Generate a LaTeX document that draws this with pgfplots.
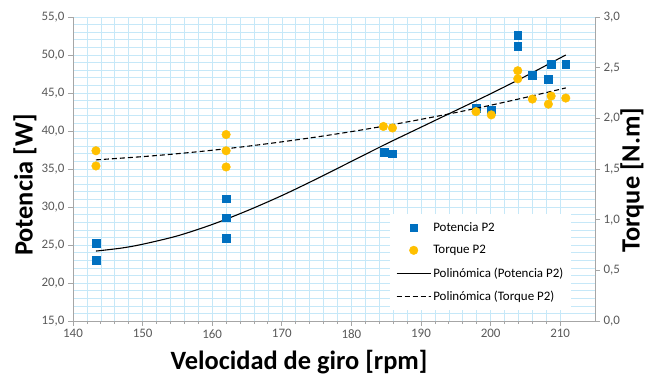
\documentclass[border=0pt]{standalone}
\usepackage{fontspec}
\setmainfont{Carlito}
\usepackage{pgfplots}
\pgfplotsset{compat=1.18}
\definecolor{gridblue}{HTML}{C6E8F8}
\definecolor{potblue}{HTML}{0070C0}
\definecolor{torqorange}{HTML}{FFC000}
\definecolor{tickgray}{HTML}{595959}
\definecolor{axisgray}{HTML}{A6A6A6}
\begin{document}
\begin{tikzpicture}
\pgfplotsset{
  base/.style={
    scale only axis, width=522bp, height=304bp,
    xmin=140, xmax=215,
    tick align=outside,
    major tick length=5bp, minor tick length=3bp,
    tick style={axisgray, line width=0.8pt},
    axis line style={axisgray, line width=1pt, -},
    ticklabel style={font=\fontsize{13}{15}\selectfont, text=tickgray},
    /pgf/number format/assume math mode=true,
  },
}
\begin{axis}[base, name=main,
  ymin=15, ymax=55,
  xtick={140,150,...,210}, minor x tick num=4,
  ytick={15,20,...,55}, minor y tick num=4,
  minor y tick style={draw=none},
  grid=both,
  major grid style={gridblue, line width=0.6pt},
  minor grid style={gridblue, line width=0.6pt},
  axis x line*=bottom, axis y line*=left,
  yticklabel style={/pgf/number format/.cd, fixed, fixed zerofill, precision=1, use comma},
  xticklabel style={/pgf/number format/.cd, fixed, precision=0},
  xlabel={Velocidad de giro [rpm]},
  ylabel={Potencia [W]},
  every axis x label/.style={at={(axis description cs:0.433,-0.161)}, anchor=base, inner sep=0pt, font=\fontsize{26.5}{30}\selectfont\bfseries},
  every axis y label/.style={at={(axis description cs:-0.092,0.447)}, anchor=center, inner sep=0pt, rotate=90, font=\fontsize{26.5}{30}\selectfont\bfseries},
]
\addplot[only marks, mark=square*, mark size=3.9bp, color=potblue] coordinates {
(143.3,25.2) (143.3,23.0)
(162.0,31.1) (162.0,28.6) (162.0,25.9)
(184.7,37.2) (185.9,37.0)
(197.9,43.0) (200.1,42.8)
(203.9,52.6) (203.9,51.2)
(206.0,47.3) (208.3,46.8) (208.7,48.8) (210.8,48.8)
};
\addplot[black, line width=1.1pt, smooth] coordinates {
(143.3,24.2) (147,24.6) (150,25.1) (155,26.2) (160,27.7) (165,29.5) (170,31.5)
(175,33.7) (180,36.0) (185,38.3) (190,40.5) (195,42.7) (200,44.9) (205,47.2) (210.8,50.0)
};
\end{axis}
\begin{axis}[base,
  ymin=0, ymax=3,
  ytick={0,0.5,...,3},
  axis x line=none, axis y line*=right,
  yticklabel style={/pgf/number format/.cd, fixed, fixed zerofill, precision=1, use comma},
  ylabel={Torque [N.m]},
  every axis y label/.style={at={(axis description cs:1.071,0.464)}, anchor=center, inner sep=0pt, rotate=90, font=\fontsize{26.5}{30}\selectfont\bfseries},
  legend style={at={(0.955,0.035)}, anchor=south east, draw=none, fill=white,
    font=\fontsize{13}{15}\selectfont, row sep=8.5bp, inner xsep=6bp, inner ysep=6bp,
    cells={anchor=west}},
  legend image code/.code={\draw[mark repeat=2,mark phase=2,#1] plot coordinates {(0cm,0cm) (0.6cm,0cm) (1.2cm,0cm)};},
]
\addlegendimage{only marks, mark=square*, mark size=3.9bp, color=potblue}
\addlegendentry{Potencia P2}
\addplot[only marks, mark=*, mark size=4.3bp, color=torqorange] coordinates {
(143.3,1.68) (143.3,1.53)
(162.0,1.84) (162.0,1.68) (162.0,1.52)
(184.6,1.92) (185.9,1.905)
(197.9,2.066) (200.1,2.034)
(203.9,2.47) (203.9,2.39)
(206.0,2.19) (208.3,2.14) (208.7,2.22) (210.8,2.20)
};
\addlegendentry{Torque P2}
\addlegendimage{black, line width=1.1pt}
\addlegendentry{Polinómica (Potencia P2)}
\addplot[black, line width=1.1pt, dash pattern=on 5bp off 3bp, smooth] coordinates {
(143.3,1.590) (150,1.622) (155,1.651) (160,1.685) (165,1.724) (170,1.768) (175,1.816)
(180,1.869) (185,1.927) (190,1.990) (195,2.057) (200,2.129) (205,2.206) (210.8,2.300)
};
\addlegendentry{Polinómica (Torque P2)}
\end{axis}
\pgfresetboundingbox
\path[use as bounding box] ([shift={(-73bp,-56bp)}]main.south west) rectangle ([shift={(54bp,17bp)}]main.north east);
\end{tikzpicture}
\end{document}
